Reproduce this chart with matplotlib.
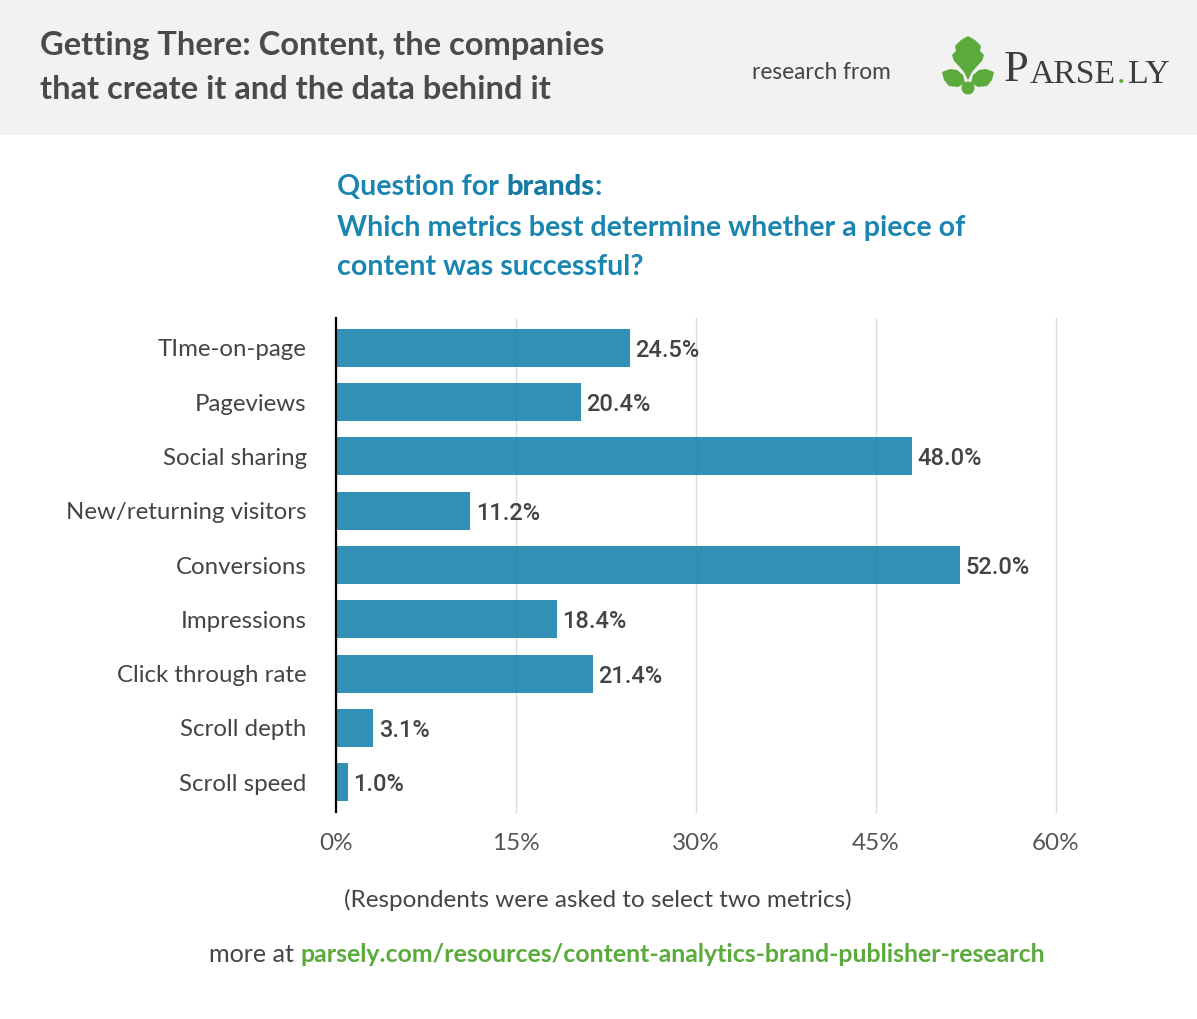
import numpy as np
import matplotlib.pyplot as plt
from matplotlib.patches import Rectangle, Circle, Polygon

metrics = ['TIme-on-page', 'Pageviews', 'Social sharing', 'New/returning visitors',
           'Conversions', 'Impressions', 'Click through rate', 'Scroll depth', 'Scroll speed']
shares = [24.5, 20.4, 48.0, 11.2, 52.0, 18.4, 21.4, 3.1, 1.0]
ticks = [0, 15, 30, 45, 60]

W, H = 1197, 1019
SANS = 'Lato'
DARK = '#444444'
BLUE = '#1a86b0'
GREEN = '#5aaa3c'
SERIF = 'Liberation Serif'

fig = plt.figure(figsize=(W / 100, H / 100), dpi=100)

# full-figure layer in pixel coordinates for header, texts and logo
bg = fig.add_axes([0, 0, 1, 1], zorder=-1)
bg.set_xlim(0, W)
bg.set_ylim(H, 0)
bg.axis('off')
bg.add_patch(Rectangle((0, 0), W, 135, color='#f2f2f2', lw=0))

bg.text(40, 55, 'Getting There: Content, the companies', fontsize=23.5, family=SANS,
        weight='bold', color='#4a4a4a', va='baseline')
bg.text(40, 99, 'that create it and the data behind it', fontsize=23.5, family=SANS,
        weight='bold', color='#4a4a4a', va='baseline')
bg.text(752, 79, 'research from', fontsize=16.3, family=SANS, color=DARK, va='baseline')

# logo
leaf = [(968, 36), (975, 40), (981, 46), (980, 51), (984, 55), (982, 61), (979, 64),
        (972, 72), (968, 80), (964, 72), (957, 64), (954, 61), (952, 55), (956, 51),
        (955, 46), (961, 40)]
bg.add_patch(Polygon(leaf, closed=True, color=GREEN, lw=0))
lleft = [(942, 72), (950, 69), (957, 70), (963, 75), (965, 83), (958, 87), (949, 86), (944, 80)]
bg.add_patch(Polygon(lleft, closed=True, color=GREEN, lw=0))
lright = [(994, 72), (986, 69), (979, 70), (973, 75), (971, 83), (978, 87), (987, 86), (992, 80)]
bg.add_patch(Polygon(lright, closed=True, color=GREEN, lw=0))
bg.add_patch(Circle((968, 88), 6.5, color=GREEN, lw=0))
p = bg.text(1004, 81, 'P', fontsize=32, family=SERIF, color='#3d3d3d', va='baseline')
a = bg.annotate('ARSE', xy=(1, 0), xycoords=p, xytext=(0.5, 0), textcoords='offset points',
                va='bottom', fontsize=24.3, family=SERIF, color='#3d3d3d')
d = bg.annotate('.', xy=(1, 0), xycoords=a, xytext=(1.2, 0), textcoords='offset points',
                va='bottom', fontsize=24.3, family=SERIF, color=GREEN)
bg.annotate('LY', xy=(1, 0), xycoords=d, xytext=(1.8, 0), textcoords='offset points',
            va='bottom', fontsize=24.3, family=SERIF, color='#3d3d3d')

# question
FQ = 20.6
q = bg.text(337, 195, 'Question for ', fontsize=FQ, family=SANS, weight='bold',
            color=BLUE, va='baseline')
b = bg.annotate('brands', xycoords=q, xy=(1, 0), va='bottom', fontsize=FQ + 0.4,
                family=SANS, weight='black', color='#167aa3')
bg.annotate(':', xycoords=b, xy=(1, 0), va='bottom', fontsize=FQ, family=SANS,
            weight='bold', color=BLUE)
bg.text(337, 236, 'Which metrics best determine whether a piece of', fontsize=FQ,
        family=SANS, weight='bold', color=BLUE, va='baseline')
bg.text(337, 275, 'content was successful?', fontsize=FQ, family=SANS,
        weight='bold', color=BLUE, va='baseline')

bg.text(598, 907, '(Respondents were asked to select two metrics)', fontsize=17.5,
        family=SANS, color=DARK, ha='center', va='baseline')
m = bg.text(209, 962, 'more at ', fontsize=18.1, family=SANS, color=DARK, va='baseline')
bg.annotate('parsely.com/resources/content-analytics-brand-publisher-research',
            xycoords=m, xy=(1, 0), va='bottom', fontsize=17.95, family=SANS,
            weight='bold', color=GREEN)

# chart
ax = fig.add_axes([336 / W, 1 - 812 / H, 720 / W, 494 / H])
y = np.arange(len(metrics))
ax.barh(y, shares, height=0.7, color='#1c83ad', alpha=0.9, zorder=2)
for yi, v in zip(y, shares):
    ax.annotate(f'{v:.1f}%', (v, yi), xytext=(4, 0), textcoords='offset points',
                va='center_baseline', ha='left', fontsize=17, family='Roboto',
                weight='medium', color=DARK)
ax.set_xlim(0, 60)
ax.set_ylim(len(metrics) - 0.45, -0.55)
ax.set_xticks(ticks)
ax.set_xticklabels([f'{t}%' for t in ticks], fontsize=17.5, family=SANS, color='#555555')
ax.set_yticks(y)
ax.set_yticklabels(metrics, fontsize=17.3, family=SANS, color=DARK)
ax.tick_params(length=0)
ax.tick_params(axis='y', pad=21)
ax.tick_params(axis='x', pad=15)
ax.grid(axis='x', color='#dddddd', lw=1, zorder=0)
for gl in ax.get_xgridlines():
    gl.set_clip_on(False)
for s in ['top', 'right', 'bottom']:
    ax.spines[s].set_visible(False)
ax.spines['left'].set_color('black')
ax.spines['left'].set_linewidth(1.6)
ax.spines['left'].set_zorder(3)
ax.set_facecolor('none')

fig.savefig('out.png', dpi=100)
